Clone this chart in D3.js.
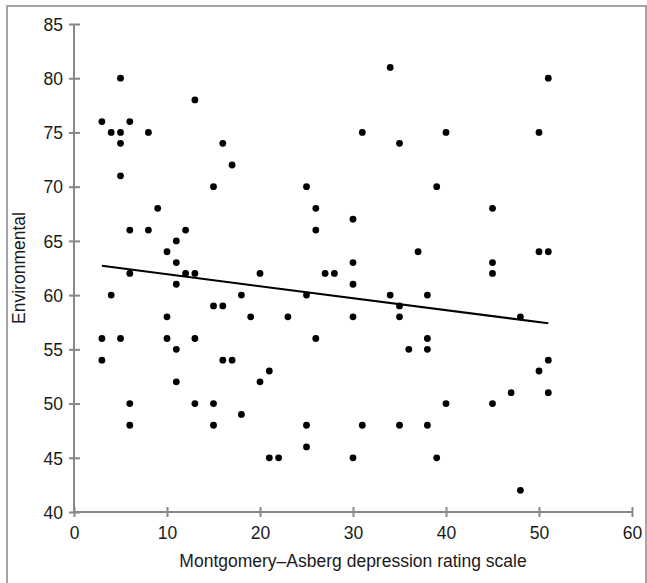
<html>
<head>
    <script src="https://d3js.org/d3.v7.min.js"></script>
    <style>
        body { margin: 0; background: #fff; }
        text { font-family: "Liberation Sans", Arial, sans-serif; fill: #1a1a1a; }
        .axis path, .axis line { stroke: #888; stroke-width: 2; }
    </style>
</head>
<body>
<div id="chart"></div>
<script>
    // data
    var madrs = [3, 4, 5, 5, 5, 5, 6, 8, 13, 16, 17, 15, 9, 6, 8, 12, 11, 10, 11, 6, 12, 13, 11, 4,
                 10, 3, 5, 3, 10, 11, 11, 13, 13, 6, 6, 15, 16, 16, 17, 15, 15, 18, 18, 19, 20, 20,
                 21, 21, 22, 23, 25, 25, 25, 25, 26, 26, 26, 27, 28, 30, 30, 30, 30, 30, 31, 31,
                 34, 34, 35, 35, 35, 35, 36, 37, 38, 38, 38, 38, 39, 39, 40, 40, 45, 45, 45, 45,
                 47, 48, 48, 50, 50, 50, 51, 51, 51, 51];
    var environmental = [76, 75, 80, 75, 74, 71, 76, 75, 78, 74, 72, 70, 68, 66, 66, 66, 65, 64, 63, 62, 62, 62, 61, 60,
                 58, 56, 56, 54, 56, 55, 52, 56, 50, 50, 48, 59, 59, 54, 54, 50, 48, 60, 49, 58, 62, 52,
                 53, 45, 45, 58, 70, 60, 48, 46, 68, 66, 56, 62, 62, 67, 63, 61, 58, 45, 75, 48,
                 81, 60, 74, 59, 58, 48, 55, 64, 60, 56, 55, 48, 70, 45, 75, 50, 68, 63, 62, 50,
                 51, 58, 42, 75, 64, 53, 80, 64, 54, 51];
    var trendX = [3, 51];
    var trendY = [62.7, 57.4];
    var xTicks = [0, 10, 20, 30, 40, 50, 60];
    var yTicks = [40, 45, 50, 55, 60, 65, 70, 75, 80, 85];

    var width = 647, height = 583;
    var fs = 17.5;

    var svg = d3.select("#chart").append("svg")
        .attr("width", width)
        .attr("height", height);

    // outer frame
    svg.append("path")
        .attr("d", "M7,590 L7,6 L646,6 L646,590")
        .attr("fill", "none")
        .attr("stroke", "#888")
        .attr("stroke-width", 1.5);

    var x = d3.scaleLinear().domain([0, 60]).range([74, 632]);
    var y = d3.scaleLinear().domain([40, 85]).range([512, 24]);

    // x axis
    var gx = svg.append("g")
        .attr("class", "axis")
        .attr("transform", "translate(0," + y(40) + ")")
        .call(d3.axisBottom(x).tickValues(xTicks).tickSizeOuter(0).tickSize(5));
    gx.selectAll(".tick line").attr("y1", -5).attr("y2", 5);
    gx.selectAll(".tick text")
        .attr("y", 27).attr("dy", 0)
        .style("font-size", fs + "px");
    gx.select(".domain").attr("d", "M" + x(0) + ",0H" + x(60));

    // y axis
    var gy = svg.append("g")
        .attr("class", "axis")
        .attr("transform", "translate(" + x(0) + ",0)")
        .call(d3.axisLeft(y).tickValues(yTicks).tickSizeOuter(0).tickSize(5));
    gy.selectAll(".tick line").attr("x1", 6).attr("x2", -5);
    gy.selectAll(".tick text")
        .attr("x", -11).attr("dy", "0.36em")
        .style("font-size", fs + "px");
    gy.select(".domain").attr("d", "M0," + y(40) + "V" + y(85));

    // trend line
    svg.append("line")
        .attr("x1", x(trendX[0])).attr("y1", y(trendY[0]))
        .attr("x2", x(trendX[1])).attr("y2", y(trendY[1]))
        .attr("stroke", "#000")
        .attr("stroke-width", 2);

    // points
    svg.selectAll("circle")
        .data(madrs)
        .enter().append("circle")
        .attr("cx", function(d) { return x(d); })
        .attr("cy", function(d, i) { return y(environmental[i]); })
        .attr("r", 3.4)
        .attr("fill", "#000");

    // axis titles
    svg.append("text")
        .attr("x", (x(0) + x(60)) / 2)
        .attr("y", 567)
        .attr("text-anchor", "middle")
        .style("font-size", fs + "px")
        .text("Montgomery\u2013Asberg depression rating scale");

    svg.append("text")
        .attr("transform", "translate(25," + ((y(40) + y(85)) / 2) + ") rotate(-90)")
        .attr("text-anchor", "middle")
        .style("font-size", fs + "px")
        .text("Environmental");
</script>
</body>
</html>
